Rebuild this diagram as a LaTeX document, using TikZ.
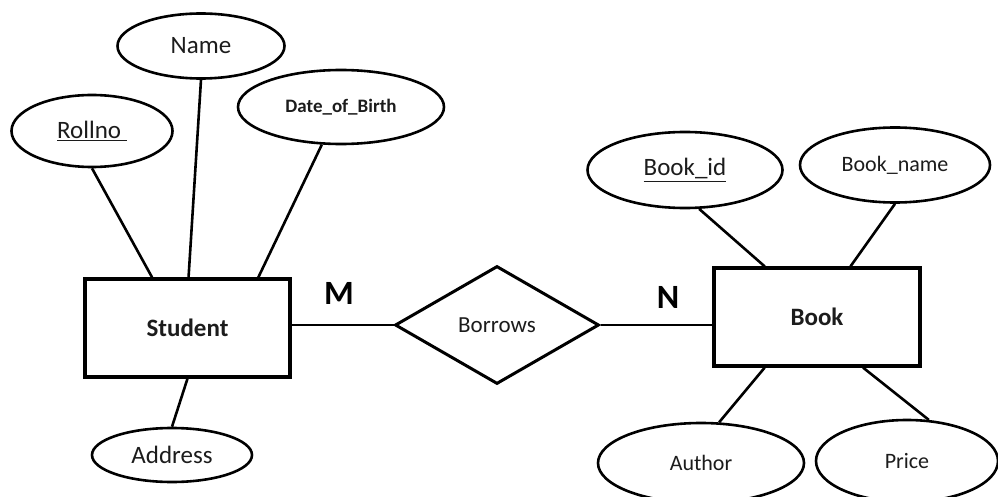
\documentclass[tikz,border=0pt]{standalone}
\usepackage{fontspec}
\setmainfont{Carlito}
\usetikzlibrary{shapes.geometric,calc}
\definecolor{ink}{HTML}{1C1C1C}
\tikzset{
  conn/.style={line width=2.6pt, draw=black},
  attr/.style={ellipse, draw=black, line width=2.6pt, inner sep=0pt, fill=white, text=ink},
  entity/.style={rectangle, draw=black, line width=3.2pt, inner sep=0pt, fill=white, text=ink,
                 font=\fontsize{25}{30}\selectfont\bfseries},
  rel/.style={diamond, draw=black, line width=3pt, inner sep=0pt, fill=white, text=ink,
              minimum width=204pt, minimum height=118pt, font=\fontsize{23}{28}\selectfont},
  big/.style={font=\fontsize{25}{30}\selectfont},
  mid/.style={font=\fontsize{22}{26}\selectfont},
  card/.style={font=\fontsize{34}{40}\selectfont\bfseries, text=black, inner sep=0pt},
}
\begin{document}
\begin{tikzpicture}[x=1pt,y=-1pt]
\useasboundingbox (0,0) rectangle (998,497);

% entities
\node[entity, minimum width=205pt, minimum height=98pt] (student) at (187.5,328) {Student};
\node[entity, minimum width=206pt, minimum height=98pt] (book) at (817,317) {Book};

% relationship
\node[rel] (borrows) at (497,325) {Borrows};

% Student attributes
\node[attr, big, minimum width=161pt, minimum height=72pt] (rollno) at (92,131) {\underline{Rollno\ }};
\node[attr, big, minimum width=167pt, minimum height=65pt] (name) at (201,46) {Name};
\node[attr, minimum width=206pt, minimum height=74pt, font=\fontsize{19}{23}\selectfont\bfseries] (dob) at (341,107) {Date\_of\_Birth};
\node[attr, big, minimum width=160pt, minimum height=54pt] (address) at (172,455) {Address};

% Book attributes
\node[attr, big, minimum width=195pt, minimum height=76pt] (bookid) at (685,170) {\underline{Book\_id}};
\node[attr, mid, minimum width=190pt, minimum height=75pt] (bookname) at (895,165) {Book\_name};
\node[attr, mid, minimum width=206pt, minimum height=80pt] (author) at (701,463) {Author};
\node[attr, mid, minimum width=182pt, minimum height=82pt] (price) at (907,461) {Price};

% cardinalities
\node[card] (m) at (339,293) {M};
\node[card] (n) at (668,297) {N};

% attribute links
\draw[conn] (rollno.south) -- ($(student.north west)!0.33!(student.north east)$);
\draw[conn] (name.south) -- ($(student.north west)!0.505!(student.north east)$);
\draw[conn] (dob.243) -- ($(student.north west)!0.84!(student.north east)$);
\draw[conn] (address.north) -- ($(student.south west)!0.5!(student.south east)$);

\draw[conn] (bookid.290) -- ($(book.north west)!0.25!(book.north east)$);
\draw[conn] (bookname.south) -- ($(book.north west)!0.66!(book.north east)$);
\draw[conn] (author.66) -- ($(book.south west)!0.25!(book.south east)$);
\draw[conn] (price.62) -- ($(book.south west)!0.72!(book.south east)$);

% relationship links
\draw[conn] (borrows.west) -- (borrows.west -| student.east);
\draw[conn] (borrows.east) -- (borrows.east -| book.west);
\end{tikzpicture}
\end{document}
